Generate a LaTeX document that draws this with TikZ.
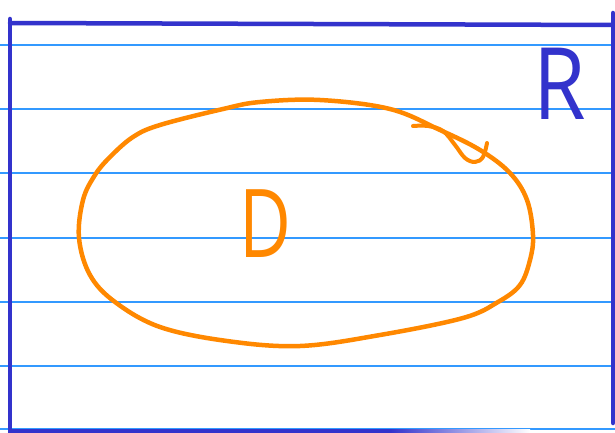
\documentclass[tikz,border=0pt]{standalone}
\usepackage{fontspec}
\newfontfamily\handfont{Open Sans}
\definecolor{ruling}{HTML}{3399FF}
\definecolor{frameblue}{HTML}{3333CC}
\definecolor{bloborange}{HTML}{FF8800}
\begin{document}
\begin{tikzpicture}[x=1pt,y=-1pt,
  rule/.style={draw=ruling,line width=1.5pt},
  frame/.style={draw=frameblue,line width=4.5pt,line cap=round},
  pen/.style={draw=bloborange,line width=4.5pt,line cap=round,line join=round}]
\useasboundingbox (0,0) rectangle (615,433);
\fill[white] (0,0) rectangle (615,433);
% ruled lines
\foreach \yy in {45,109,173,238,302,366,429}
  \draw[rule] (0,\yy) -- (615,\yy);
% frame R
\draw[frame] (10,19) -- (10,432);
\draw[frame] (10,23) -- (616,25);
\draw[frame] (613,13) -- (613,423);
\draw[frame,line cap=butt] (8,431) -- (390,431);
\shade[left color=frameblue,right color=white] (390,429) rectangle (530,433);
% region D outline
\draw[pen] plot[smooth cycle,tension=0.6] coordinates {
 (320,100) (390,109) (440,130) (480,150) (510,173) (527,200) (533,235)
 (530,260) (520,285) (498,302) (463,318) (380,335) (300,346) (227,341)
 (160,327) (115,302) (90,275) (79,238) (83,200) (95,175) (110,157)
 (133,137) (160,125) (223,109) (260,102)};
\draw[pen,line width=4pt] plot[smooth,tension=0.6] coordinates {
 (413,126) (428,126) (443,131) (455,145) (465,158) (475,162) (483,157) (487,143)};
% labels
\node[anchor=base,inner sep=0pt,text=frameblue,xscale=0.85,font=\handfont\fontsize{100}{100}\selectfont] (labR) at (560,120) {R};
\node[anchor=base,inner sep=0pt,text=bloborange,xscale=0.75,font=\handfont\fontsize{95}{95}\selectfont] (labD) at (265,257) {D};
\end{tikzpicture}
\end{document}
